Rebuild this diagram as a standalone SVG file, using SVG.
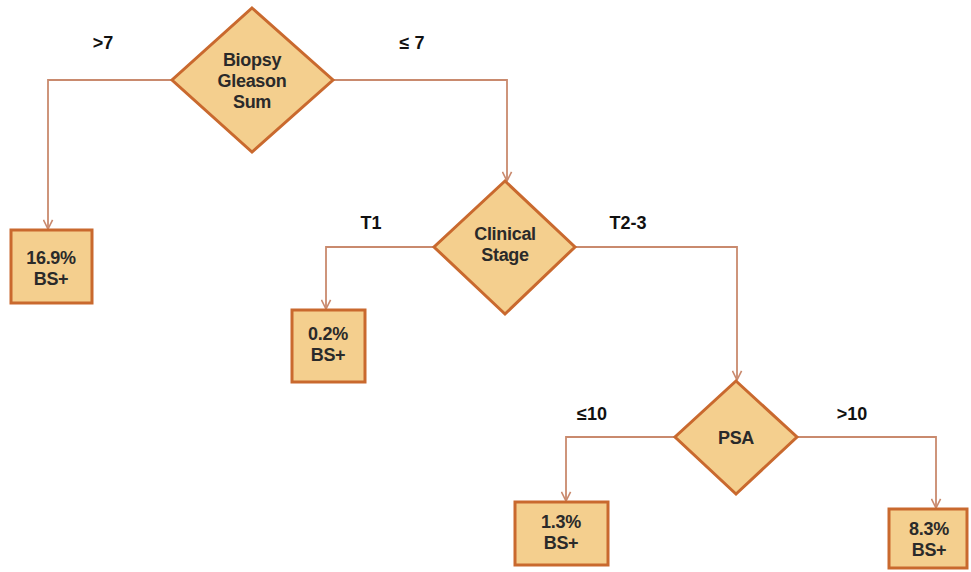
<svg xmlns="http://www.w3.org/2000/svg" width="971" height="572" viewBox="0 0 971 572">
<style>
.node{fill:#F4CF8E;stroke:#C9692E;stroke-width:3}
.t{font-family:"Liberation Sans",Arial,sans-serif;font-size:18px;font-weight:bold;fill:#2a2a2a;text-anchor:middle;letter-spacing:-0.3px}
.lab{font-family:"Liberation Sans",Arial,sans-serif;font-size:18px;font-weight:bold;fill:#111;text-anchor:middle}
.c{fill:none;stroke:#C98A6E;stroke-width:1.8}
</style>
<defs>
<marker id="arr" viewBox="0 0 12 12" refX="11" refY="6" markerWidth="11" markerHeight="11" markerUnits="userSpaceOnUse" orient="auto">
<path d="M1,1 L11,6 L1,11" fill="none" stroke="#C98A6E" stroke-width="1.8"/>
</marker>
</defs>
<rect width="971" height="572" fill="#fff"/>
<g id="connectors">
<polyline class="c" points="172,80 48,80 48,229" marker-end="url(#arr)"/>
<polyline class="c" points="333,80 507,80 507,181" marker-end="url(#arr)"/>
<polyline class="c" points="434,247 326,247 326,309" marker-end="url(#arr)"/>
<polyline class="c" points="575,247 737,247 737,380" marker-end="url(#arr)"/>
<polyline class="c" points="675,437 566,437 566,501" marker-end="url(#arr)"/>
<polyline class="c" points="797,437 936,437 936,508" marker-end="url(#arr)"/>
</g>
<g id="labels">
<text class="lab" x="103" y="49">&gt;7</text>
<text class="lab" x="412" y="49">≤ 7</text>
<text class="lab" x="371" y="229">T1</text>
<text class="lab" x="628" y="229">T2-3</text>
<text class="lab" x="592" y="420">≤10</text>
<text class="lab" x="852" y="420">&gt;10</text>
</g>
<g id="biopsy">
<polygon class="node" points="252,8 333,80 252,152 172,80"/>
<text class="t" x="252" y="66">Biopsy</text>
<text class="t" x="252" y="87">Gleason</text>
<text class="t" x="252" y="108">Sum</text>
</g>
<g id="clinical">
<polygon class="node" points="505,181 575,247 505,314 434,247"/>
<text class="t" x="505" y="240">Clinical</text>
<text class="t" x="505" y="261">Stage</text>
</g>
<g id="psa">
<polygon class="node" points="736,381 797,437 736,494 675,437"/>
<text class="t" x="736" y="444">PSA</text>
</g>
<g id="box169">
<rect class="node" x="11" y="230" width="81" height="73"/>
<text class="t" x="51" y="264">16.9%</text>
<text class="t" x="51" y="285">BS+</text>
</g>
<g id="box02">
<rect class="node" x="292" y="310" width="73" height="72"/>
<text class="t" x="328" y="340">0.2%</text>
<text class="t" x="328" y="361">BS+</text>
</g>
<g id="box13">
<rect class="node" x="515" y="502" width="93" height="63"/>
<text class="t" x="561" y="528">1.3%</text>
<text class="t" x="561" y="549">BS+</text>
</g>
<g id="box83">
<rect class="node" x="889" y="509" width="78" height="59"/>
<text class="t" x="929" y="535">8.3%</text>
<text class="t" x="929" y="556">BS+</text>
</g>
</svg>
